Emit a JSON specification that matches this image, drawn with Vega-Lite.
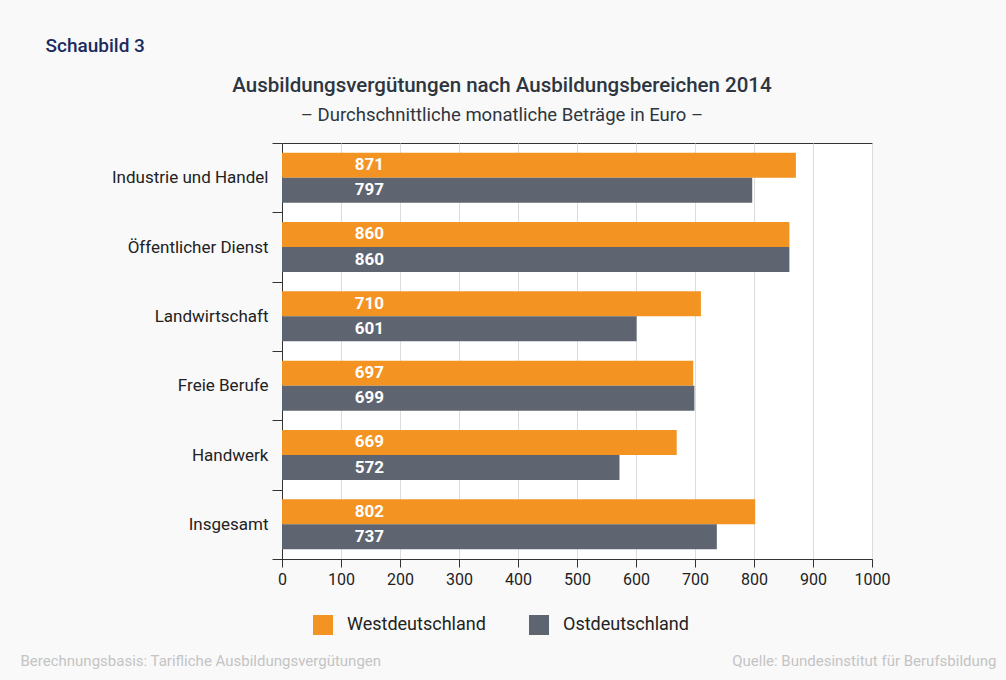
{
  "$schema": "https://vega.github.io/schema/vega-lite/v6.json",
  "width": 590,
  "height": 416,
  "autosize": {"type": "none"},
  "padding": {"left": 282, "top": 143, "right": 134, "bottom": 121},
  "background": "#f9f9f9",
  "config": {
    "font": "Roboto",
    "view": {"stroke": "#333333", "strokeWidth": 1, "fill": "white"}
  },
  "title": {
    "text": "Ausbildungsvergütungen nach Ausbildungsbereichen 2014",
    "subtitle": "– Durchschnittliche monatliche Beträge in Euro –",
    "anchor": "middle",
    "frame": "group",
    "dx": -75,
    "fontSize": 20.5,
    "fontWeight": 500,
    "color": "#2d3640",
    "subtitleFontSize": 18.5,
    "subtitleColor": "#2d3640",
    "subtitlePadding": 9,
    "offset": -88
  },
  "data": {
    "values": [
      {"Bereich": "Industrie und Handel", "Region": "Westdeutschland", "Wert": 871},
      {"Bereich": "Industrie und Handel", "Region": "Ostdeutschland", "Wert": 797},
      {"Bereich": "Öffentlicher Dienst", "Region": "Westdeutschland", "Wert": 860},
      {"Bereich": "Öffentlicher Dienst", "Region": "Ostdeutschland", "Wert": 860},
      {"Bereich": "Landwirtschaft", "Region": "Westdeutschland", "Wert": 710},
      {"Bereich": "Landwirtschaft", "Region": "Ostdeutschland", "Wert": 601},
      {"Bereich": "Freie Berufe", "Region": "Westdeutschland", "Wert": 697},
      {"Bereich": "Freie Berufe", "Region": "Ostdeutschland", "Wert": 699},
      {"Bereich": "Handwerk", "Region": "Westdeutschland", "Wert": 669},
      {"Bereich": "Handwerk", "Region": "Ostdeutschland", "Wert": 572},
      {"Bereich": "Insgesamt", "Region": "Westdeutschland", "Wert": 802},
      {"Bereich": "Insgesamt", "Region": "Ostdeutschland", "Wert": 737}
    ]
  },
  "layer": [
    {
      "mark": {"type": "bar"},
      "encoding": {
        "y": {
          "field": "Bereich",
          "type": "nominal",
          "sort": null,
          "scale": {"paddingInner": 0, "paddingOuter": 0},
          "axis": {
            "title": "Schaubild 3",
            "titleAngle": 0,
            "titleX": -237,
            "titleY": -98,
            "titleAlign": "left",
            "titleBaseline": "middle",
            "titleFontSize": 19,
            "titleFontWeight": 500,
            "titleColor": "#1b2b5e",
            "tickBand": "extent",
            "tickSize": 10,
            "tickColor": "#333333",
            "domainColor": "#333333",
            "labelFontSize": 17,
            "labelColor": "#222222",
            "labelPadding": 4
          }
        },
        "yOffset": {
          "field": "Region",
          "sort": ["Westdeutschland", "Ostdeutschland"],
          "scale": {"paddingInner": 0, "paddingOuter": 0.386}
        },
        "x": {
          "field": "Wert",
          "type": "quantitative",
          "scale": {"domain": [0, 1000], "nice": false},
          "axis": {
            "title": "Berechnungsbasis: Tarifliche Ausbildungsvergütungen",
            "titleX": -262,
            "titleY": 101,
            "titleAlign": "left",
            "titleBaseline": "middle",
            "titleFontSize": 15,
            "titleFontWeight": "normal",
            "titleColor": "#c4c4c4",
            "values": [0, 100, 200, 300, 400, 500, 600, 700, 800, 900, 1000],
            "format": "d",
            "grid": true,
            "gridColor": "#dcdcdc",
            "tickSize": 8,
            "tickColor": "#333333",
            "domainColor": "#333333",
            "labelFontSize": 16,
            "labelColor": "#222222",
            "labelPadding": 4,
            "labelFlush": false
          }
        },
        "color": {
          "field": "Region",
          "type": "nominal",
          "scale": {"domain": ["Westdeutschland", "Ostdeutschland"], "range": ["#f39322", "#5e6570"]},
          "legend": {
            "orient": "none",
            "legendX": 31,
            "legendY": 472,
            "direction": "horizontal",
            "title": null,
            "symbolType": "square",
            "symbolSize": 400,
            "symbolStrokeWidth": 0,
            "labelFontSize": 18,
            "labelColor": "#222222",
            "labelOffset": 14,
            "columnPadding": 43,
            "padding": 0
          }
        }
      }
    },
    {
      "mark": {"type": "text", "color": "white", "fontWeight": "bold", "fontSize": 17, "baseline": "middle", "align": "center"},
      "encoding": {
        "y": {"field": "Bereich", "type": "nominal", "sort": null},
        "yOffset": {"field": "Region", "sort": ["Westdeutschland", "Ostdeutschland"]},
        "x": {
          "datum": 148,
          "type": "quantitative",
          "scale": {"domain": [0, 1000], "nice": false},
          "axis": {
            "orient": "top",
            "labels": false,
            "ticks": false,
            "domain": false,
            "grid": false,
            "title": "Quelle: Bundesinstitut für Berufsbildung",
            "titleX": 714,
            "titleY": 517,
            "titleAlign": "right",
            "titleBaseline": "middle",
            "titleFontSize": 15,
            "titleFontWeight": "normal",
            "titleColor": "#c4c4c4"
          }
        },
        "text": {"field": "Wert", "type": "quantitative"}
      }
    }
  ],
  "resolve": {"scale": {"x": "independent"}, "axis": {"x": "independent"}}
}
